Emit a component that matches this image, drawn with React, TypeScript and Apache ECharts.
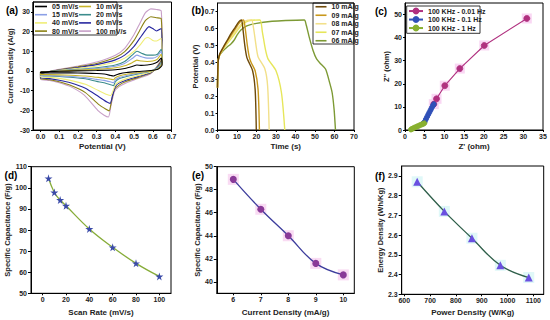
import React, { useEffect, useRef } from 'react';
import * as echarts from 'echarts';

const FONT = '"Liberation Sans", Arial, Helvetica, sans-serif';

// ---------- (a) CV curves: [potential V, current density A/g] ----------
const cvNames = ['05 mV/s', '10 mV/s', '15 mV/s', '20 mV/s', '40 mV/s', '60 mV/s', '80 mV/s', '100 mV/s'];
const cvColors = ['#000000', '#c8b428', '#8ca0e6', '#3c8c8c', '#f0ee78', '#2828a0', '#8c8214', '#c8a0c8'];
const cv05 = [[0, -0.5], [0.05, -0.3], [0.1, -0.2], [0.2, 0], [0.3, 0.2], [0.4, 0.6], [0.45, 1.2], [0.49, 2.2], [0.515, 3], [0.54, 2.8], [0.57, 3], [0.6, 3.5], [0.625, 4.5], [0.645, 6.5], [0.65, 3], [0.63, 1], [0.59, 0.2], [0.52, -0.3], [0.46, -0.8], [0.42, -1.5], [0.4, -2.2], [0.39, -2.6], [0.375, -2.3], [0.34, -1.6], [0.3, -1.3], [0.24, -1.1], [0.16, -1], [0.1, -1], [0.05, -1], [0, -1], [0, -0.5]];
const cv10 = [[0, -0.6], [0.05, -0.3], [0.1, -0.1], [0.2, 0.4], [0.3, 0.8], [0.4, 1.6], [0.45, 2.6], [0.49, 4.2], [0.515, 5.5], [0.54, 5], [0.57, 4.8], [0.6, 5], [0.625, 6], [0.645, 8.5], [0.65, 4], [0.63, 1.3], [0.59, 0], [0.52, -0.9], [0.46, -1.7], [0.42, -2.6], [0.4, -3.5], [0.39, -4.5], [0.375, -4.2], [0.34, -3.6], [0.3, -3.2], [0.24, -2.6], [0.16, -2.2], [0.1, -2], [0.05, -1.9], [0, -1.9], [0, -0.6]];
const cv15 = [[0, -0.7], [0.05, -0.3], [0.1, 0], [0.2, 0.6], [0.3, 1.2], [0.4, 2.4], [0.45, 3.8], [0.49, 6.3], [0.515, 8], [0.54, 7.2], [0.57, 6.5], [0.6, 6.5], [0.625, 7.5], [0.645, 10], [0.65, 4.5], [0.63, 1.6], [0.59, 0], [0.52, -1.2], [0.46, -2.3], [0.42, -3.4], [0.4, -4.6], [0.39, -6], [0.375, -5.6], [0.34, -4.8], [0.3, -4.3], [0.24, -3.4], [0.16, -2.8], [0.1, -2.5], [0.05, -2.3], [0, -2.2], [0, -0.7]];
const cv20 = [[0, -0.8], [0.05, -0.3], [0.1, 0.1], [0.2, 0.8], [0.3, 1.6], [0.4, 3], [0.45, 4.8], [0.49, 8], [0.515, 10], [0.54, 9], [0.57, 8], [0.6, 8], [0.625, 8.5], [0.645, 11], [0.65, 5], [0.63, 2], [0.59, 0], [0.52, -1.5], [0.46, -2.8], [0.42, -4], [0.4, -5.5], [0.39, -7.5], [0.375, -7], [0.34, -6], [0.3, -5.3], [0.24, -4], [0.16, -3.2], [0.1, -2.8], [0.05, -2.6], [0, -2.5], [0, -0.8]];
const cv40 = [[0, -1], [0.05, -0.3], [0.1, 0.3], [0.2, 1.3], [0.3, 2.5], [0.4, 4.5], [0.45, 6.5], [0.5, 10], [0.53, 13], [0.56, 16.5], [0.575, 17], [0.6, 15.5], [0.62, 15.2], [0.645, 16.5], [0.65, 5.5], [0.63, 2], [0.59, -0.6], [0.52, -2.4], [0.46, -3.9], [0.42, -5.5], [0.4, -7], [0.388, -10], [0.375, -12.5], [0.355, -12], [0.31, -10], [0.24, -6.8], [0.16, -4.8], [0.1, -3.8], [0.05, -3.3], [0, -3], [0, -1]];
const cv60 = [[0, -1.2], [0.05, -0.3], [0.1, 0.4], [0.2, 1.7], [0.3, 3.2], [0.4, 5.6], [0.45, 8], [0.5, 12.5], [0.53, 16.5], [0.56, 20.5], [0.58, 22.5], [0.6, 21.5], [0.62, 20.3], [0.645, 21.5], [0.65, 6], [0.63, 2.5], [0.59, -0.8], [0.52, -2.9], [0.46, -4.6], [0.42, -6.2], [0.4, -8], [0.385, -12.5], [0.372, -16.5], [0.355, -15.8], [0.31, -13], [0.24, -8.8], [0.16, -6], [0.1, -4.7], [0.05, -3.9], [0, -3.5], [0, -1.2]];
const cv80 = [[0, -1.3], [0.05, -0.3], [0.1, 0.6], [0.2, 2.1], [0.3, 3.8], [0.4, 6.8], [0.45, 9.8], [0.5, 15.5], [0.53, 20.5], [0.56, 25.5], [0.59, 27.5], [0.62, 27], [0.645, 26.5], [0.65, 7], [0.63, 3], [0.59, -1], [0.52, -3.4], [0.46, -5.3], [0.42, -7.2], [0.395, -9.5], [0.38, -15], [0.367, -20.3], [0.35, -19.5], [0.31, -17], [0.24, -11], [0.16, -7.3], [0.1, -5.5], [0.05, -4.5], [0, -3.9], [0, -1.3]];
const cv100 = [[0, -1.5], [0.05, -0.2], [0.1, 0.8], [0.2, 2.5], [0.3, 4.5], [0.4, 8], [0.45, 11.5], [0.5, 18.5], [0.53, 24], [0.56, 29.5], [0.59, 31.5], [0.62, 31.2], [0.645, 30.5], [0.65, 8], [0.63, 3.5], [0.59, -1.3], [0.52, -3.9], [0.46, -6], [0.42, -8], [0.395, -10.6], [0.377, -17.4], [0.363, -23.4], [0.34, -22.5], [0.306, -20], [0.234, -12.3], [0.163, -8.1], [0.1, -6], [0.05, -4.8], [0, -4.2], [0, -1.5]];

// ---------- (b) GCD curves: [time s, potential V] ----------
const gcdNames = ['10 mA/g', '09 mA/g', '08 mA/g', '07 mA/g', '06 mA/g'];
const gcdColors = ['#6e4a0a', '#c8981c', '#f2e08a', '#e6e65a', '#7d9a35'];
const gcd10 = [[0, 0.25], [0.3, 0.4], [1, 0.445], [3, 0.49], [5, 0.53], [7, 0.57], [9, 0.605], [11, 0.64], [12.3, 0.65], [13, 0.6], [14, 0.5], [15, 0.43], [15.8, 0.407], [18, 0.35], [19.3, 0.24], [19.9, 0]];
const gcd09 = [[0, 0.25], [0.3, 0.4], [1, 0.44], [3, 0.485], [5, 0.525], [7, 0.56], [9, 0.595], [11, 0.63], [12.5, 0.648], [13.4, 0.65], [14.2, 0.6], [15.3, 0.5], [16.3, 0.43], [17.2, 0.4], [19.3, 0.35], [20.8, 0.24], [21.5, 0]];
const gcd08 = [[0, 0.25], [0.3, 0.4], [1, 0.44], [3, 0.48], [5, 0.52], [7, 0.55], [9, 0.58], [11, 0.61], [13, 0.635], [15.5, 0.648], [17.5, 0.65], [18.5, 0.6], [20, 0.48], [20.9, 0.43], [24.3, 0.36], [25.7, 0.26], [26.5, 0]];
const gcd07 = [[0, 0.25], [0.3, 0.4], [1, 0.44], [3, 0.48], [5, 0.51], [7, 0.54], [9, 0.57], [11, 0.6], [13, 0.625], [16, 0.645], [21.7, 0.65], [23, 0.58], [24.5, 0.48], [25.9, 0.42], [30, 0.35], [32.8, 0.22], [34.5, 0]];
const gcd06 = [[0, 0.25], [0.3, 0.4], [1, 0.44], [3, 0.47], [5, 0.49], [7, 0.51], [8.5, 0.53], [10, 0.56], [12, 0.59], [15, 0.615], [20, 0.63], [28, 0.642], [35, 0.647], [44.5, 0.65], [45.5, 0.62], [47, 0.55], [49, 0.47], [50.8, 0.42], [53, 0.39], [55.4, 0.36], [57.5, 0.28], [58.8, 0.22], [59.8, 0.12], [60.5, 0]];

// ---------- (c) Nyquist: [Z' ohm, Z'' ohm] ----------
const nyNames = ['100 KHz - 0.01 Hz', '100 KHz - 0.1 Hz', '100 KHz - 1 Hz'];
const nyColors = ['#b0307f', '#3050b8', '#88b030'];
const ny001 = [[7.3, 11.2], [8.0, 13.5], [10.1, 19.2], [13.9, 26.6], [20.1, 36.6], [30.9, 48.3]];
const ny01 = [[4.6, 2.8], [5.0, 3.6], [5.3, 4.7], [5.6, 5.7], [5.9, 6.7], [6.2, 7.7], [6.5, 8.7], [6.8, 9.7], [7.1, 10.6], [7.3, 11.2]];
const ny1 = [[1.5, 0.2], [1.8, 0.5], [2.1, 0.8], [2.5, 1.1], [2.9, 1.4], [3.3, 1.7], [3.7, 2.0], [4.1, 2.3], [4.5, 2.6], [4.9, 2.9]];

// ---------- (d) Specific capacitance vs scan rate ----------
const scanRates = [5, 10, 15, 20, 40, 60, 80, 100];
const capScan = [104.5, 97.8, 94.2, 91.5, 80.5, 71.8, 64.2, 58.0];

// ---------- (e) Specific capacitance vs current density ----------
const currDens = [6, 7, 8, 9, 10];
const capCurr = [48.9, 46.3, 44.0, 41.6, 40.6];

// ---------- (f) Ragone ----------
const powerDens = [650, 755, 862, 972, 1082];
const energyDens = [2.87, 2.72, 2.584, 2.447, 2.385];

const STAR = 'path://M50,0 L61,35 L98,35 L68,57 L79,91 L50,70 L21,91 L32,57 L2,35 L39,35 Z';

const labelStyle = { fontSize: 7, fontWeight: 'bold', color: '#222', fontFamily: FONT };
const nameStyle = { fontSize: 8, fontWeight: 'bold', color: '#222', fontFamily: FONT };

function axis(gi: number, min: number, max: number, extra: any) {
  return {
    type: 'value',
    gridIndex: gi,
    min,
    max,
    scale: true,
    splitLine: { show: false },
    axisLine: { show: true, onZero: false, lineStyle: { color: '#000', width: 1 } },
    axisTick: { show: true, inside: false, length: 2, lineStyle: { color: '#000', width: 1 } },
    nameLocation: 'middle',
    nameTextStyle: nameStyle,
    ...extra,
    axisLabel: { ...labelStyle, margin: 3, ...(extra.axisLabel || {}) },
  };
}

const f1 = (v: number) => v.toFixed(1);
const plain = (v: number) => String(v);

function buildOption() {
  const grids = [
    { left: 33, top: 2, width: 138.5, height: 128 },
    { left: 217.5, top: 3, width: 136.5, height: 127 },
    { left: 405, top: 3, width: 138, height: 127 },
    { left: 31, top: 166.7, width: 140, height: 126.6 },
    { left: 216.8, top: 166.7, width: 137.5, height: 126.6 },
    { left: 401.7, top: 166, width: 142, height: 128.3 },
  ].map((g) => ({ ...g, show: true, borderColor: '#000', borderWidth: 1, backgroundColor: 'transparent', containLabel: false }));

  const xAxis = [
    axis(0, -0.04, 0.7, { splitNumber: 7, name: 'Potential (V)', nameGap: 12.5, axisLabel: { formatter: f1, showMinLabel: false } }),
    axis(1, 0, 70, { interval: 10, name: 'Time (s)', nameGap: 12.5 }),
    axis(2, 0, 35, { interval: 5, name: "Z' (ohm)", nameGap: 12.5 }),
    axis(3, -10, 110, { splitNumber: 6, name: 'Scan Rate (mV/s)', nameGap: 15, axisLabel: { showMinLabel: false, showMaxLabel: false } }),
    axis(4, 5.4, 10.4, { splitNumber: 5, name: 'Current Density (mA/g)', nameGap: 15, axisLabel: { showMinLabel: false, showMaxLabel: false } }),
    axis(5, 590, 1140, { splitNumber: 5, name: 'Power Density (W/Kg)', nameGap: 14, axisLabel: { formatter: plain, showMinLabel: false, showMaxLabel: false } }),
  ];
  const yNameStyle = { ...nameStyle, fontSize: 7.5 };
  const yAxis = [
    axis(0, -30, 35, { interval: 10, name: 'Current Density (A/g)', nameGap: 19, nameTextStyle: yNameStyle, axisLabel: { showMaxLabel: false } }),
    axis(1, 0, 0.75, { interval: 0.1, name: 'Potential (V)', nameGap: 18.5, nameTextStyle: yNameStyle, axisLabel: { formatter: f1, showMaxLabel: false } }),
    axis(2, 0, 55, { interval: 10, name: "Z'' (ohm)", nameGap: 8.5, nameTextStyle: yNameStyle, axisLabel: { showMaxLabel: false } }),
    axis(3, 50, 110, { interval: 10, name: 'Specific Capacitance (F/g)', nameGap: 15.5, nameTextStyle: yNameStyle, axisTick: { show: true, length: 3, lineStyle: { color: '#000' } }, axisLabel: { margin: 4 } }),
    axis(4, 39, 50, { splitNumber: 5, name: 'Specific Capacitance (F/g)', nameGap: 13, nameTextStyle: yNameStyle, axisTick: { show: true, length: 3, lineStyle: { color: '#000' } }, axisLabel: { margin: 4, showMinLabel: false } }),
    axis(5, 2.3, 2.95, { interval: 0.1, name: 'Energy Density (Wh/Kg)', nameGap: 14.5, nameTextStyle: yNameStyle, axisTick: { show: true, length: 3, lineStyle: { color: '#000' } }, axisLabel: { margin: 4, formatter: f1, showMaxLabel: false } }),
  ];

  const series: any[] = [];
  const cvData = [cv05, cv10, cv15, cv20, cv40, cv60, cv80, cv100];
  for (let i = cvData.length - 1; i >= 0; i--) {
    series.push({
      type: 'line', name: cvNames[i], xAxisIndex: 0, yAxisIndex: 0, data: cvData[i],
      symbol: 'none', smooth: 0.2, lineStyle: { width: 1.1, color: cvColors[i] }, itemStyle: { color: cvColors[i] },
    });
  }
  const gcdData = [gcd10, gcd09, gcd08, gcd07, gcd06];
  for (let i = gcdData.length - 1; i >= 0; i--) {
    series.push({
      type: 'line', name: gcdNames[i], xAxisIndex: 1, yAxisIndex: 1, data: gcdData[i],
      symbol: 'none', smooth: 0.25, lineStyle: { width: 1.4, color: gcdColors[i] }, itemStyle: { color: gcdColors[i] },
    });
  }
  // Nyquist halos + series
  series.push({
    type: 'scatter', xAxisIndex: 2, yAxisIndex: 2, data: ny001, symbol: 'rect', symbolSize: 10,
    itemStyle: { color: '#f8cdf0' }, silent: true, z: 1,
  });
  const nyData = [ny001, ny01, ny1];
  nyData.forEach((d, i) => {
    series.push({
      type: 'line', name: nyNames[i], xAxisIndex: 2, yAxisIndex: 2, data: d,
      symbol: 'circle', symbolSize: i === 0 ? 6 : 5, showSymbol: true,
      lineStyle: { width: 1.1, color: nyColors[i] },
      itemStyle: { color: nyColors[i], borderColor: nyColors[i], borderWidth: 0.8 }, z: 3,
    });
  });
  // (d)
  series.push({
    type: 'line', xAxisIndex: 3, yAxisIndex: 3, data: scanRates.map((x, i) => [x, capScan[i]]),
    smooth: 0.4, symbol: STAR, symbolSize: 8, showSymbol: true,
    lineStyle: { width: 1.3, color: '#86ac38' }, itemStyle: { color: '#3a4aa8' },
  });
  // (e)
  series.push({
    type: 'scatter', xAxisIndex: 4, yAxisIndex: 4, data: currDens.map((x, i) => [x, capCurr[i]]),
    symbol: 'rect', symbolSize: 11, itemStyle: { color: '#f7d2f0' }, silent: true, z: 1,
  });
  series.push({
    type: 'line', xAxisIndex: 4, yAxisIndex: 4, data: currDens.map((x, i) => [x, capCurr[i]]),
    smooth: 0.4, symbol: 'circle', symbolSize: 7, showSymbol: true,
    lineStyle: { width: 1.3, color: '#3c3c9c' }, itemStyle: { color: '#8a3a98' }, z: 3,
  });
  // (f)
  series.push({
    type: 'scatter', xAxisIndex: 5, yAxisIndex: 5, data: powerDens.map((x, i) => [x, energyDens[i]]),
    symbol: 'rect', symbolSize: 11, itemStyle: { color: '#d8f6f6' }, silent: true, z: 1,
  });
  series.push({
    type: 'line', xAxisIndex: 5, yAxisIndex: 5, data: powerDens.map((x, i) => [x, energyDens[i]]),
    smooth: 0.4, symbol: 'triangle', symbolSize: 8, showSymbol: true,
    lineStyle: { width: 1.3, color: '#2f5f4a' }, itemStyle: { color: '#6a50e0' }, z: 3,
  });

  const legText = { fontSize: 7, fontWeight: 'bold', color: '#222', fontFamily: FONT, lineHeight: 8.2 };
  const legendBase = { orient: 'vertical', padding: 0, itemGap: 0, itemWidth: 12, itemHeight: 6, textStyle: legText, selectedMode: false };
  const lineIcon = { icon: 'rect', itemHeight: 1.6 };
  const legend = [
    { ...legendBase, ...lineIcon, left: 35, top: 2.4, data: [cvNames[0], cvNames[2], cvNames[4], cvNames[6]] },
    { ...legendBase, ...lineIcon, left: 79, top: 2.4, data: [cvNames[1], cvNames[3], cvNames[5], cvNames[7]] },
    { ...legendBase, ...lineIcon, left: 315.5, top: 2.5, itemWidth: 11, data: gcdNames, textStyle: { ...legText, lineHeight: 8.5 } },
    { ...legendBase, left: 408, top: 6.8, itemWidth: 14, data: nyNames, textStyle: { ...legText, lineHeight: 8.5 } },
  ];

  const boxStyle = { fill: 'none', stroke: '#000', lineWidth: 0.8 };
  const panelLabel = (text: string, x: number, y: number) => ({
    type: 'text', x, y, style: { text, fill: '#000', font: `bold 10px ${FONT}`, align: 'center', verticalAlign: 'middle' },
  });
  const graphic = [
    { type: 'rect', shape: { x: 33, y: 2, width: 84, height: 33 }, style: boxStyle, silent: true },
    { type: 'rect', shape: { x: 313, y: 3, width: 41, height: 41 }, style: boxStyle, silent: true },
    { type: 'rect', shape: { x: 406.7, y: 6, width: 73.3, height: 27.3 }, style: boxStyle, silent: true },
    panelLabel('(a)', 12, 10.5),
    panelLabel('(b)', 198, 10.5),
    panelLabel('(c)', 381, 11),
    panelLabel('(d)', 11, 175),
    panelLabel('(e)', 198, 175),
    panelLabel('(f)', 380, 176),
  ];

  return {
    animation: false,
    backgroundColor: '#ffffff',
    textStyle: { fontFamily: FONT },
    grid: grids,
    xAxis,
    yAxis,
    legend,
    graphic,
    series,
  };
}

export default function App() {
  const ref = useRef<HTMLDivElement>(null);
  useEffect(() => {
    if (!ref.current) return;
    const chart = echarts.init(ref.current, null, { renderer: 'svg' });
    chart.setOption(buildOption() as any);
    return () => chart.dispose();
  }, []);
  return (
    <div
      ref={ref}
      style={{ position: 'fixed', left: 0, top: 0, width: 550, height: 320, background: '#fff' }}
    />
  );
}
